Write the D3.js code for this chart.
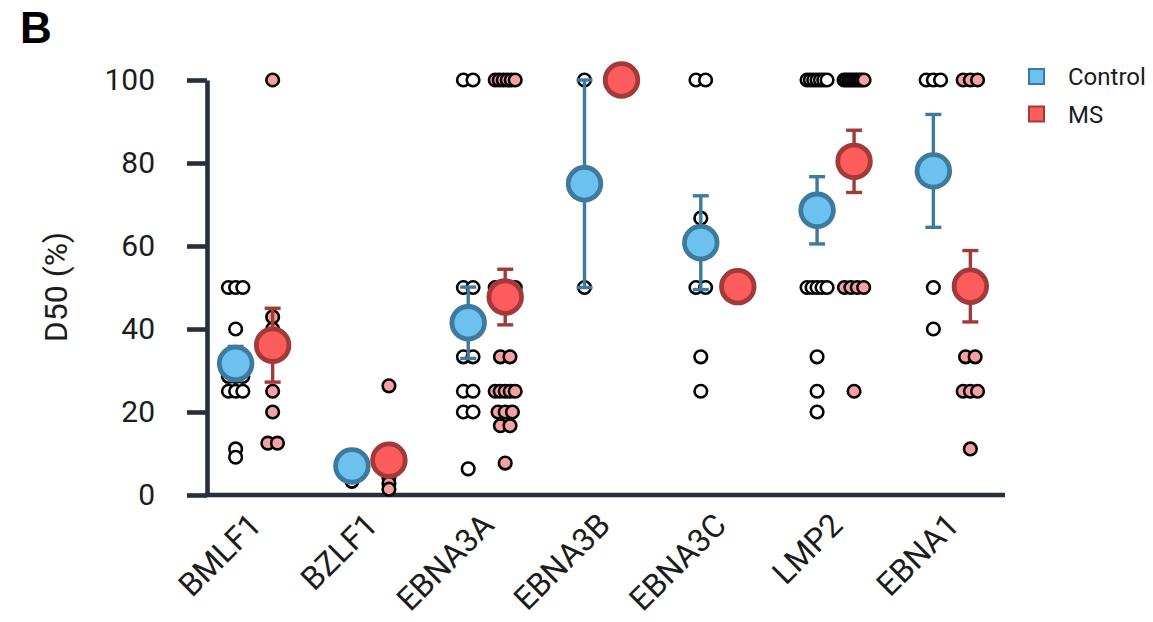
<!DOCTYPE html>
<html><head><meta charset="utf-8">
<script src="https://cdn.jsdelivr.net/npm/d3@7"></script>
<style>body{margin:0;background:#fff}svg{display:block}</style>
</head><body>
<script>
// ---- data ----
const categories = ["BMLF1","BZLF1","EBNA3A","EBNA3B","EBNA3C","LMP2","EBNA1"];
const seriesNames = ["Control","MS"];
const controlValues = [
  [50,50,50,40,28.6,28.6,28.6,25,25,25,11.1,9.1],
  [3.3,5.6,7.1,8.3,8.3,9.1],
  [100,100,50,50,33.3,33.3,25,25,20,20,6.3],
  [100,50],
  [100,100,66.7,50,50,33.3,25],
  [100,100,100,100,100,100,100,50,50,50,50,50,33.3,25,20],
  [100,100,100,50,40]
];
const msValues = [
  [100,42.9,40,25,20,12.5,12.5],
  [26.3,10,6.3,4.2,2.8,1.4],
  [100,100,100,100,100,100,50,50,50,50,50,33.3,33.3,25,25,25,25,25,20,20,20,16.7,16.7,7.7],
  [100],
  [50],
  [100,100,100,100,100,100,100,100,100,50,50,50,50,25],
  [100,100,100,33.3,33.3,25,25,25,11.1]
];
const controlMean = [31.7, 7.0, 41.5, 75, 60.8, 68.6, 78.1];
const controlSem  = [4.1, 1.2, 8.6, 25, 11.3, 8.1, 13.6];
const msMean = [36.1, 8.4, 47.7, 100, 50.2, 80.4, 50.3];
const msSem  = [8.9, 3.5, 6.7, 0, 0, 7.5, 8.6];
const yTicks = [0,20,40,60,80,100];

// ---- styles ----
const W = 1153, H = 622;
const axisColor = "#262f3a";
const style = {
  Control: {fill:"#6cc1ee", stroke:"#3e7a9e", dot:"#ffffff"},
  MS:      {fill:"#fd5c5c", stroke:"#a33a3a", dot:"#f6a1a1"}
};

const svg = d3.select("body").append("svg").attr("width",W).attr("height",H);

const x = d3.scaleBand().domain(categories).range([196,1010]).paddingInner(0).paddingOuter(0);
const y = d3.scaleLinear().domain([0,100]).range([495,80]);
const sub = d3.scalePoint().domain(seriesNames).range([-18.5,18.5]);
const cx = (c,s) => x(c) + x.bandwidth()/2 + sub(s);

// y axis
const yAx = svg.append("g").attr("transform","translate(207,0)")
  .call(d3.axisLeft(y).tickValues(yTicks).tickSize(20).tickSizeOuter(0).tickPadding(32));
yAx.select(".domain").attr("stroke",axisColor).attr("stroke-width",4.6);
yAx.selectAll(".tick line").attr("stroke",axisColor).attr("stroke-width",4.6);
yAx.selectAll(".tick text").attr("font-family","Roboto").attr("font-size",30).attr("fill","#1c1c1c");

// x axis
const xAx = svg.append("g").attr("transform","translate(0,495)")
  .call(d3.axisBottom(x).tickSize(0).tickPadding(0));
xAx.select(".domain").remove();
xAx.append("line").attr("x1",205).attr("x2",1005).attr("y1",0).attr("y2",0)
  .attr("stroke",axisColor).attr("stroke-width",4.6);
xAx.selectAll(".tick text")
  .attr("font-family","Roboto").attr("font-size",32).attr("fill","#1c1c1c")
  .attr("text-anchor","end").attr("dy",0).attr("y",0)
  .attr("transform","translate(9,32) rotate(-45)");

// swarm offsets for equal values
function swarm(values){
  const counts = d3.rollup(values, v=>v.length, d=>d);
  const seen = new Map();
  return values.map(v=>{
    const n = counts.get(v), k = seen.get(v)||0; seen.set(v,k+1);
    const spread = n>1 ? Math.min(20, 4.8*n) : 0;
    const off = n>1 ? -spread/2 + k*spread/(n-1) : 0;
    return {v, off};
  });
}

const groups = [
  {name:"Control", vals:controlValues, mean:controlMean, sem:controlSem},
  {name:"MS", vals:msValues, mean:msMean, sem:msSem}
];

// individual points
groups.forEach(g=>{
  categories.forEach((c,i)=>{
    svg.append("g").selectAll("circle").data(swarm(g.vals[i])).join("circle")
      .attr("cx",d=>cx(c,g.name)+d.off).attr("cy",d=>y(d.v)).attr("r",6.3)
      .attr("fill",style[g.name].dot).attr("stroke","#000").attr("stroke-width",2.6);
  });
});

// error bars
groups.forEach(g=>{
  const eg = svg.append("g").attr("stroke",style[g.name].stroke).attr("stroke-width",3.4);
  categories.forEach((c,i)=>{
    if(!g.sem[i]) return;
    const xc = cx(c,g.name), lo = y(g.mean[i]-g.sem[i]), hi = y(g.mean[i]+g.sem[i]);
    eg.append("line").attr("x1",xc).attr("x2",xc).attr("y1",lo).attr("y2",hi);
    [lo,hi].forEach(yy=>eg.append("line").attr("x1",xc-8).attr("x2",xc+8).attr("y1",yy).attr("y2",yy));
  });
});

// means
groups.forEach(g=>{
  svg.append("g").selectAll("circle").data(categories).join("circle")
    .attr("cx",c=>cx(c,g.name)).attr("cy",(c,i)=>y(g.mean[i])).attr("r",16.3)
    .attr("fill",style[g.name].fill).attr("stroke",style[g.name].stroke).attr("stroke-width",4.8);
});

// y label
svg.append("text").attr("transform","translate(56,287) rotate(-90)")
  .attr("text-anchor","middle").attr("dominant-baseline","central")
  .attr("font-family","Roboto").attr("font-size",32).attr("fill","#1c1c1c").text("D50 (%)");

// panel letter
svg.append("text").attr("x",20).attr("y",43).attr("font-family","Liberation Sans")
  .attr("font-weight","bold").attr("font-size",44).attr("fill","#000").text("B");

// legend
const lg = svg.append("g");
seriesNames.forEach((s,i)=>{
  lg.append("rect").attr("x",1029).attr("y",69+i*37.5).attr("width",15).attr("height",15)
    .attr("fill",style[s].fill).attr("stroke",style[s].stroke).attr("stroke-width",2);
  lg.append("text").attr("x",1068).attr("y",77+i*37.5).attr("dominant-baseline","central")
    .attr("font-family","Roboto").attr("font-size",24).attr("fill","#1c1c1c").text(s);
});
</script>
</body></html>
